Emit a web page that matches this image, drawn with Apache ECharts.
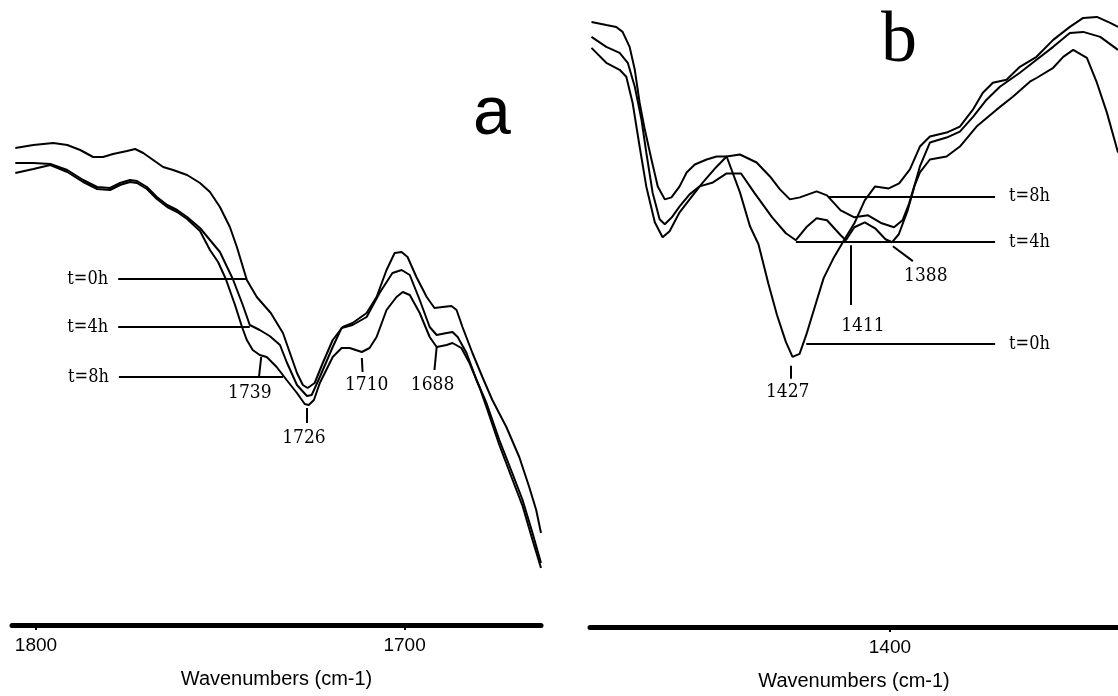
<!DOCTYPE html>
<html>
<head>
<meta charset="utf-8">
<script src="https://cdn.jsdelivr.net/npm/echarts@6/dist/echarts.min.js"></script>
<style>
html,body{margin:0;padding:0;background:#fff;}
#chart{width:1118px;height:696px;}
</style>
</head>
<body>
<div id="chart"></div>
<script>
// ---------- Panel a : 1800-1660 cm-1 (wavenumber, relative transmittance) ----------
const a_t0h_wn  = [1805.6,1800.7,1795.3,1791.5,1788.0,1784.5,1781.8,1779.1,1775.3,1773.1,1770.9,1768.2,1765.5,1762.8,1759.0,1755.5,1752.8,1750.1,1747.4,1745.5,1742.8,1740.1,1736.3,1733.0,1731.1,1729.2,1727.6,1726.3,1724.4,1722.2,1719.5,1716.8,1714.1,1710.3,1707.6,1704.9,1702.7,1700.8,1699.2,1696.8,1694.0,1691.9,1689.7,1687.3,1685.9,1684.3,1681.6,1678.9,1676.2,1672.4,1668.9,1666.2,1664.3,1663.0];
const a_t0h_val = [47.7,48.0,48.2,48.0,47.5,46.8,46.8,47.1,47.4,47.6,47.2,46.5,45.8,45.5,45.0,44.2,43.3,41.8,39.8,37.8,34.5,32.8,31.2,29.2,27.2,25.2,24.0,23.7,24.2,26.2,28.5,29.8,30.2,31.2,32.8,35.5,37.2,37.3,36.8,34.8,32.8,31.7,31.8,31.9,31.5,29.8,27.2,24.8,22.5,19.8,16.8,13.8,11.5,9.2];

const a_t4h_wn  = [1805.6,1800.7,1796.1,1791.5,1787.2,1783.4,1779.9,1777.2,1774.5,1772.6,1769.9,1767.2,1764.4,1761.7,1759.0,1755.5,1752.8,1750.1,1746.6,1743.9,1742.0,1739.3,1736.6,1733.8,1732.0,1729.2,1726.5,1725.2,1723.0,1719.5,1717.1,1714.1,1710.3,1706.8,1703.3,1700.8,1698.6,1695.9,1693.2,1691.3,1688.6,1687.0,1685.6,1683.2,1680.5,1677.8,1674.3,1670.8,1668.0,1665.3,1663.0];
const a_t4h_val = [46.2,46.2,46.1,45.5,44.5,43.8,43.7,44.2,44.5,44.4,43.8,42.8,42.0,41.5,40.8,39.7,38.5,37.3,34.6,32.0,30.0,29.5,28.9,28.0,26.3,24.0,22.9,23.0,24.8,27.8,29.7,30.0,30.8,33.2,35.2,35.5,35.0,32.5,29.8,29.0,29.2,29.3,28.8,27.2,24.5,22.2,18.5,15.2,12.5,9.2,6.2];

const a_t8h_wn  = [1805.6,1800.7,1796.1,1791.5,1787.2,1783.4,1779.9,1777.2,1774.5,1772.6,1769.9,1767.2,1764.4,1761.7,1759.0,1755.5,1752.8,1750.6,1748.5,1746.0,1744.1,1742.8,1741.2,1739.3,1737.4,1734.7,1732.0,1729.2,1727.1,1726.0,1724.6,1723.0,1719.5,1717.1,1714.9,1711.6,1709.5,1707.6,1704.9,1702.2,1700.5,1698.6,1695.9,1693.2,1691.3,1688.6,1687.0,1684.6,1682.4,1679.7,1677.8,1674.3,1670.8,1668.0,1665.3,1663.0];
const a_t8h_val = [45.2,45.6,46.0,45.3,44.3,43.6,43.5,44.0,44.3,44.2,43.6,42.6,41.8,41.3,40.6,39.4,37.5,36.3,34.6,32.0,29.8,28.5,27.5,27.0,26.8,25.8,24.5,23.2,22.1,22.0,22.5,24.2,26.8,27.7,27.7,27.3,27.7,28.8,31.5,32.8,33.3,33.0,31.2,28.8,27.8,28.0,28.2,27.7,26.2,23.8,21.8,18.0,14.6,11.9,8.5,5.7];

// ---------- Panel b : 1480-1340 cm-1 ----------
const b_t0h_wn  = [1480.6,1476.6,1473.9,1472.2,1470.3,1468.9,1467.6,1466.2,1464.4,1462.7,1460.8,1459.0,1456.8,1454.9,1452.7,1449.5,1446.8,1444.1,1440.5,1437.8,1435.5,1432.8,1430.5,1428.1,1426.3,1424.4,1422.6,1419.8,1417.9,1415.1,1412.4,1409.6,1406.8,1404.0,1400.3,1397.5,1394.6,1391.9,1389.2,1384.7,1381.1,1377.6,1374.9,1372.2,1368.5,1364.9,1360.4,1355.9,1351.4,1347.8,1344.1,1340.5,1338.4];
const b_t0h_val = [60.7,60.4,60.2,59.7,58.2,55.9,52.6,49.9,46.9,44.2,42.9,43.1,44.2,45.6,46.4,46.9,47.2,47.2,43.6,40.2,38.4,34.4,31.3,28.6,27.1,27.4,29.3,32.7,35.0,37.1,38.8,40.5,42.8,44.2,44.0,44.5,45.9,48.2,49.2,49.6,50.2,51.9,53.6,54.6,54.9,56.2,57.2,58.9,60.2,61.1,61.2,60.6,60.2];

const b_t4h_wn  = [1480.6,1476.6,1473.0,1470.8,1468.9,1467.1,1465.8,1464.1,1462.2,1460.8,1458.9,1456.8,1454.1,1451.4,1447.8,1444.1,1440.2,1436.5,1431.8,1428.1,1425.4,1422.6,1419.8,1417.0,1413.3,1411.9,1409.6,1406.8,1404.0,1401.2,1399.4,1397.6,1395.2,1393.4,1391.9,1389.2,1384.7,1381.1,1376.6,1371.2,1366.8,1362.2,1360.3,1355.9,1353.2,1350.5,1346.8,1344.1,1341.4,1338.4];
const b_t4h_val = [59.2,58.2,57.6,56.6,54.2,50.9,47.6,43.6,40.9,40.4,41.1,42.2,43.4,44.2,44.6,45.5,45.5,43.5,41.1,39.5,38.8,40.1,41.0,40.8,39.3,38.8,40.1,40.6,40.0,38.9,38.6,39.4,41.8,44.2,45.6,46.9,47.2,48.2,50.2,51.9,53.2,54.7,55.1,56.1,57.2,57.9,57.1,54.6,51.6,47.6];

const b_t8h_wn  = [1480.6,1476.6,1473.0,1471.2,1469.5,1467.6,1465.8,1463.5,1461.4,1459.5,1456.8,1454.1,1450.5,1447.0,1444.1,1440.5,1436.0,1432.4,1429.7,1427.0,1424.3,1419.8,1417.0,1413.3,1409.6,1405.9,1402.2,1398.9,1396.6,1394.8,1392.9,1391.9,1389.2,1384.7,1381.1,1377.5,1373.9,1370.3,1364.9,1360.4,1355.9,1351.4,1347.8,1343.2,1338.4];
const b_t8h_val = [58.1,56.6,55.9,55.2,52.6,48.2,44.2,40.6,39.1,39.7,41.6,42.9,44.6,46.1,47.2,47.4,46.6,45.2,43.9,42.9,43.1,43.7,43.3,41.8,41.1,41.3,40.5,40.1,40.8,42.5,44.9,46.2,48.6,49.1,49.7,51.2,52.9,54.2,55.6,56.9,58.2,59.6,59.7,59.2,57.9];

// ---------- axis ticks and annotations ----------
const a_ticks = [1800, 1700];
const b_ticks = [1400];
const a_seriesNames = ['t=0h', 't=4h', 't=8h'];
const b_seriesNames = ['t=0h', 't=4h', 't=8h'];
// series-label pointer lines: [name, wnStart, wnEnd, value]
const a_seriesTags = [['t=0h', 1777.7, 1742.8, 34.6], ['t=4h', 1777.7, 1742.0, 29.8], ['t=8h', 1777.5, 1733.0, 24.8]];
const b_seriesTags = [['t=8h', 1416.5, 1371.6, 43.2], ['t=4h', 1425.4, 1371.6, 38.6], ['t=0h', 1422.6, 1371.6, 28.4]];
// peak ticks: [wn1, val1, wn2, val2]
const a_peakTicks = [[1739.5, 24.8, 1738.9, 26.8], [1726.5, 21.7, 1726.5, 20.2], [1711.6, 26.7, 1711.4, 25.3], [1691.3, 27.8, 1691.9, 25.5]];
const b_peakTicks = [[1426.8, 26.2, 1426.8, 24.9], [1410.5, 38.3, 1410.5, 32.3], [1399.2, 38.2, 1393.8, 36.7]];
// peak labels: [text, wn, value]
const a_peakLabels = [['1739', 1742.0, 23.2], ['1726', 1727.3, 18.7], ['1710', 1710.3, 24.0], ['1688', 1692.4, 24.0]];
const b_peakLabels = [['1427', 1427.6, 23.6], ['1411', 1407.3, 30.2], ['1388', 1390.3, 35.2]];

const zip = (xs, ys) => xs.map((x, i) => [x, ys[i]]);
const serifFont = '"DejaVu Serif Condensed", "DejaVu Serif", serif';
const sansFont = '"Liberation Sans", Arial, sans-serif';

function tagLines(tags, pos) {
  return tags.map(t => [
    {coord: [t[1], t[3]], name: t[0],
     label: {show: true, position: pos, formatter: '{b}', color: '#000', fontFamily: serifFont, fontSize: 18, distance: pos === 'start' ? 10 : 14}},
    {coord: [t[2], t[3]]}
  ]);
}
function tickLines(ticks) {
  return ticks.map(t => [{coord: [t[0], t[1]], label: {show: false}}, {coord: [t[2], t[3]]}]);
}
function peakPoints(labels) {
  return labels.map(l => ({name: l[0], coord: [l[1], l[2]]}));
}

const lineStyle = {color: '#000', width: 2};

function curve(name, xi, data, extra) {
  return Object.assign({
    type: 'line', name: name, xAxisIndex: xi, yAxisIndex: xi,
    data: data, showSymbol: false, symbol: 'none',
    lineStyle: lineStyle, itemStyle: {color: '#000'}, silent: true
  }, extra || {});
}

function annotations(tags, pos, ticks, labels) {
  return {
    markLine: {
      silent: true, symbol: 'none', animation: false,
      lineStyle: {color: '#000', width: 2, type: 'solid'},
      data: tagLines(tags, pos).concat(tickLines(ticks))
    },
    markPoint: {
      silent: true, symbol: 'circle', symbolSize: 0, animation: false,
      label: {show: true, position: 'inside', formatter: '{b}', color: '#000', fontFamily: serifFont, fontSize: 19},
      data: peakPoints(labels)
    }
  };
}

function xAxisCfg(gi, min, max, ticks) {
  return {
    type: 'value', gridIndex: gi, inverse: true, min: min, max: max,
    name: 'Wavenumbers (cm-1)', nameLocation: 'middle', nameGap: 44,
    nameTextStyle: {color: '#000', fontFamily: sansFont, fontSize: 20},
    splitLine: {show: false},
    axisLine: {show: true, onZero: false, lineStyle: {color: '#000', width: 5}},
    axisTick: {show: true, length: 5, lineStyle: {color: '#000', width: 2}, customValues: ticks},
    axisLabel: {color: '#000', fontFamily: sansFont, fontSize: 19, margin: 11, customValues: ticks,
                formatter: v => String(Math.round(v))}
  };
}
function yAxisCfg(gi, max) {
  return {type: 'value', gridIndex: gi, min: 0, max: max, show: false};
}

const chart = echarts.init(document.getElementById('chart'), null, {renderer: 'canvas'});
chart.setOption({
  animation: false,
  backgroundColor: '#fff',
  grid: [
    {left: 12, right: 577, top: 0, bottom: 71},
    {left: 590, right: 0, top: 0, bottom: 67}
  ],
  xAxis: [xAxisCfg(0, 1663.0, 1806.5, a_ticks), xAxisCfg(1, 1338.4, 1481.0, b_ticks)],
  yAxis: [yAxisCfg(0, 62.5), yAxisCfg(1, 62.9)],
  graphic: [
    {type: 'text', x: 492, y: 115, style: {text: 'a', font: '68px "Liberation Sans", Arial, sans-serif', fill: '#000', textAlign: 'center', textVerticalAlign: 'middle'}},
    {type: 'text', x: 899, y: 42, style: {text: 'b', font: '72px "Liberation Serif", "Times New Roman", serif', fill: '#000', textAlign: 'center', textVerticalAlign: 'middle'}}
  ],
  series: [
    curve(a_seriesNames[0], 0, zip(a_t0h_wn, a_t0h_val), annotations(a_seriesTags, 'start', a_peakTicks, a_peakLabels)),
    curve(a_seriesNames[1], 0, zip(a_t4h_wn, a_t4h_val)),
    curve(a_seriesNames[2], 0, zip(a_t8h_wn, a_t8h_val)),
    curve(b_seriesNames[0], 1, zip(b_t0h_wn, b_t0h_val), annotations(b_seriesTags, 'end', b_peakTicks, b_peakLabels)),
    curve(b_seriesNames[1], 1, zip(b_t4h_wn, b_t4h_val)),
    curve(b_seriesNames[2], 1, zip(b_t8h_wn, b_t8h_val))
  ]
});
</script>
</body>
</html>
